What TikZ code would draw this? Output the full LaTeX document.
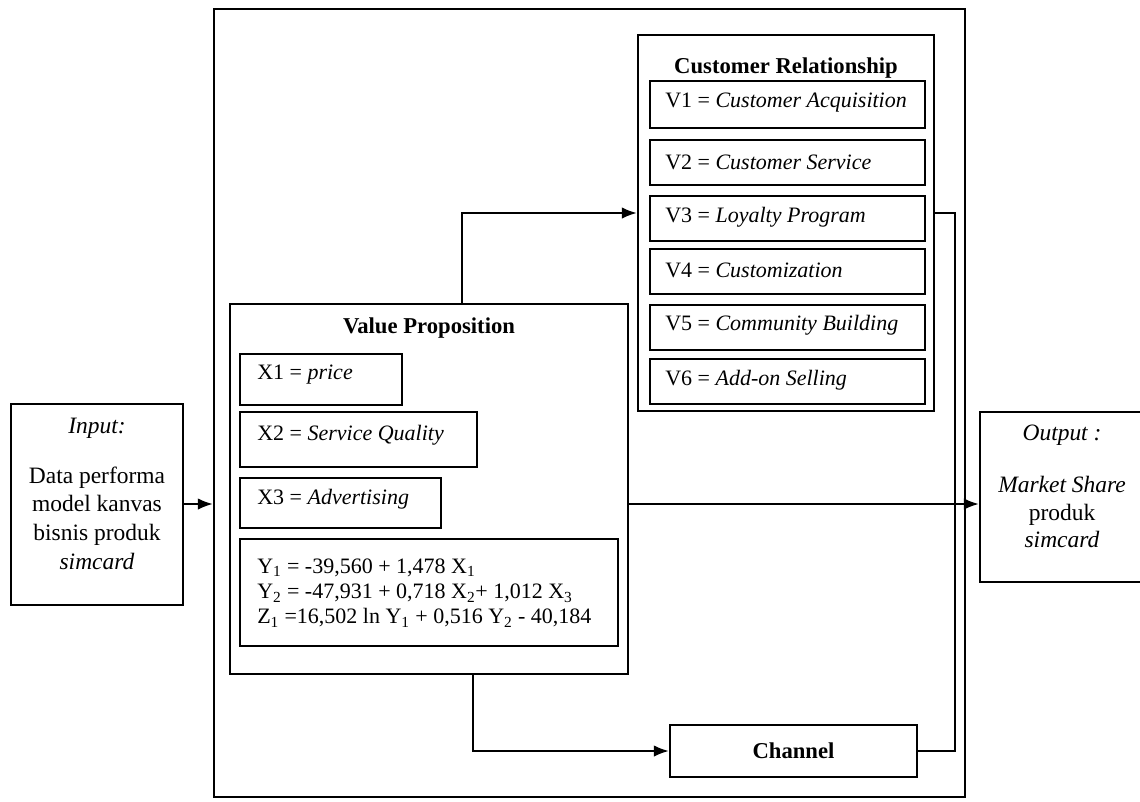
\documentclass[tikz,border=0pt]{standalone}
\usepackage{fontspec}
\setmainfont{Liberation Serif}
\usetikzlibrary{arrows.meta,fit}

\tikzset{
  heavybox/.style={draw, line width=2.2pt, inner sep=0pt},
  lightbox/.style={draw, line width=1pt, inner sep=0pt},
  wire/.style={line width=0.9pt},
  arr/.style={wire, -{Latex[length=11pt,width=8.5pt]}},
  txt/.style={inner sep=0pt, font=\fontsize{16.5}{21}\selectfont},
  bigtxt/.style={inner sep=0pt, align=center, font=\fontsize{17.6}{21.5}\selectfont},
  headtxt/.style={inner sep=0pt, font=\fontsize{17}{21}\selectfont\bfseries},
}

\begin{document}
\begin{tikzpicture}[x=0.75pt, y=-0.75pt]
\useasboundingbox (0,0) rectangle (1140,801);
\clip (0,0) rectangle (1140,801);

% main frame of the business model canvas
\node[heavybox, fit={(214,9) (965,797)}] (canvas) {};

% input and output
\node[heavybox, fit={(11,404) (183,605)}] (in) {};
\node[bigtxt] (inT) at (97,428) {\textit{Input:}};
\node[bigtxt] (inB) at (97,518)
  {Data performa\\model kanvas\\bisnis produk\\\textit{simcard}};

\node[heavybox, fit={(980,412) (1146,582)}] (out) {};
\node[bigtxt] (outT) at (1062,435) {\textit{Output :}};
\node[bigtxt, font=\fontsize{17.6}{20.5}\selectfont] (outB) at (1062,512)
  {\textit{Market Share}\\produk\\\textit{simcard}};

% value proposition
\node[heavybox, fit={(230,304) (628,674)}] (vp) {};
\node[headtxt] (vpT) at (429,328) {Value Proposition};
\node[lightbox, fit={(240,354) (402,405)}] (x1) {};
\node[lightbox, fit={(240,412) (477,467)}] (x2) {};
\node[lightbox, fit={(240,478) (441,528)}] (x3) {};
\node[lightbox, fit={(240,539) (618,646)}] (eq) {};
\node[txt, anchor=west] (x1T) at (257,375) {X1 = \textit{price}};
\node[txt, anchor=west] (x2T) at (257,435) {X2 = \textit{Service Quality}};
\node[txt, anchor=west] (x3T) at (257,499) {X3 = \textit{Advertising}};
\node[txt, anchor=west, align=left, font=\fontsize{16.5}{18.8}\selectfont] (eqT) at (257,593)
  {Y\textsubscript{1} = -39,560 + 1,478 X\textsubscript{1}\\
   Y\textsubscript{2} = -47,931 + 0,718 X\textsubscript{2}+ 1,012 X\textsubscript{3}\\
   Z\textsubscript{1} =16,502 ln Y\textsubscript{1} + 0,516 Y\textsubscript{2} - 40,184};

% customer relationship
\node[heavybox, fit={(638,35) (934,411)}] (cr) {};
\node[headtxt] (crT) at (786,68) {Customer Relationship};
\node[lightbox, fit={(650,81) (925,128)}] (v1) {};
\node[lightbox, fit={(650,140) (925,185)}] (v2) {};
\node[lightbox, fit={(650,196) (925,241)}] (v3) {};
\node[lightbox, fit={(650,249) (925,294)}] (v4) {};
\node[lightbox, fit={(650,305) (925,350)}] (v5) {};
\node[lightbox, fit={(650,359) (925,404)}] (v6) {};
\node[txt, anchor=west] (v1T) at (665,103) {V1 = \textit{Customer Acquisition}};
\node[txt, anchor=west] (v2T) at (665,162) {V2 = \textit{Customer Service}};
\node[txt, anchor=west] (v3T) at (665,217) {V3 = \textit{Loyalty Program}};
\node[txt, anchor=west] (v4T) at (665,270) {V4 = \textit{Customization}};
\node[txt, anchor=west] (v5T) at (665,325) {V5 = \textit{Community Building}};
\node[txt, anchor=west] (v6T) at (665,380) {V6 = \textit{Add-on Selling}};

% channel
\node[heavybox, fit={(670,725) (917,777)}] (ch) {};
\node[headtxt] (chT) at (ch.center) {Channel};

% connectors
\coordinate (upX) at (462,213);
\coordinate (downX) at (473,749);
\coordinate (loopX) at (955,213);
\coordinate (midY) at (0,504);

\draw[arr] (in.east |- midY) -- (canvas.west |- midY);
\draw[arr] (vp.east |- midY) -- (out.west |- midY);
\draw[arr] (vp.north -| upX) |- (cr.west |- upX);
\draw[arr] (vp.south -| downX) |- (ch.west);
\draw[wire] (cr.east |- loopX) -- (loopX) |- (ch.east);
\end{tikzpicture}
\end{document}
